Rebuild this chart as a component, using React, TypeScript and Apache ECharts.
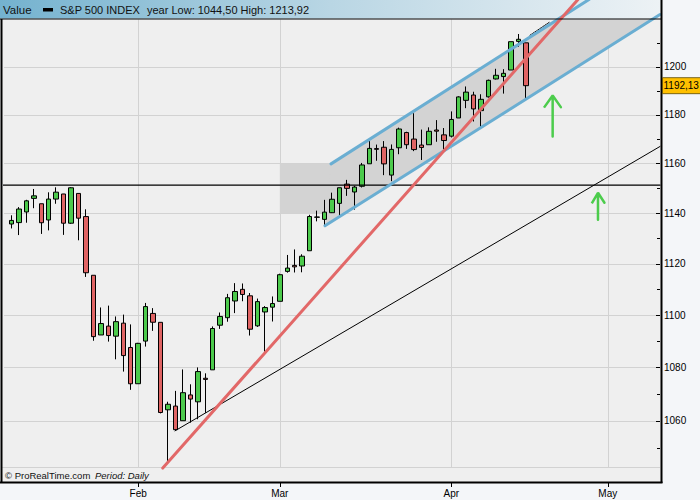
import React, { useEffect, useRef } from "react";
import * as echarts from "echarts";

// Trading days on the category axis (Jan 5 -> May 12, 2010)
const tradingDays = [
  "2010-01-05", "2010-01-06", "2010-01-07", "2010-01-08", "2010-01-11", "2010-01-12", "2010-01-13", "2010-01-14", "2010-01-15",
  "2010-01-19", "2010-01-20", "2010-01-21", "2010-01-22", "2010-01-25", "2010-01-26", "2010-01-27", "2010-01-28", "2010-01-29",
  "2010-02-01", "2010-02-02", "2010-02-03", "2010-02-04", "2010-02-05", "2010-02-08", "2010-02-09", "2010-02-10", "2010-02-11",
  "2010-02-12", "2010-02-16", "2010-02-17", "2010-02-18", "2010-02-19", "2010-02-22", "2010-02-23", "2010-02-24", "2010-02-25",
  "2010-02-26", "2010-03-01", "2010-03-02", "2010-03-03", "2010-03-04", "2010-03-05", "2010-03-08", "2010-03-09", "2010-03-10",
  "2010-03-11", "2010-03-12", "2010-03-15", "2010-03-16", "2010-03-17", "2010-03-18", "2010-03-19", "2010-03-22", "2010-03-23",
  "2010-03-24", "2010-03-25", "2010-03-26", "2010-03-29", "2010-03-30", "2010-03-31", "2010-04-01", "2010-04-05", "2010-04-06",
  "2010-04-07", "2010-04-08", "2010-04-09", "2010-04-12", "2010-04-13", "2010-04-14", "2010-04-15", "2010-04-16", "2010-04-19",
  "2010-04-20", "2010-04-21", "2010-04-22", "2010-04-23", "2010-04-26", "2010-04-27", "2010-04-28", "2010-04-29", "2010-04-30",
  "2010-05-03", "2010-05-04", "2010-05-05", "2010-05-06", "2010-05-07", "2010-05-10", "2010-05-11", "2010-05-12",
];
const monthNames = ["Jan", "Feb", "Mar", "Apr", "May", "Jun", "Jul", "Aug", "Sep", "Oct", "Nov", "Dec"];

// First candle sits on tradingDays[1] (Jan 6)
const firstCandleIndex = 1;
const openP = [
  1135.71, 1136.27, 1140.52, 1145.96, 1143.81, 1137.31, 1145.68, 1147.72, 1136.03, 1147.95, 1138.68, 1115.49, 1092.40, 1095.80, 1091.94, 1096.93, 1087.61,
  1073.89, 1090.05, 1100.67, 1097.25, 1064.12, 1065.51, 1060.06, 1069.68, 1067.10, 1075.95, 1079.13, 1096.14, 1099.03, 1105.49, 1110.00, 1107.49, 1095.89, 1101.24, 1103.10,
  1105.36, 1117.01, 1119.36, 1119.12, 1125.12, 1138.40, 1137.56, 1140.22, 1143.96, 1151.71, 1148.53, 1150.83, 1159.94, 1166.13, 1166.68, 1155.35, 1166.47, 1172.70, 1170.03, 1167.58, 1167.71, 1173.75, 1171.75,
  1171.23, 1178.71, 1186.01, 1188.23, 1181.75, 1187.47, 1194.94, 1195.94, 1198.69, 1210.77, 1210.17,
];
const highP = [
  1139.19, 1142.46, 1145.39, 1149.74, 1143.81, 1148.40, 1150.41, 1147.77, 1150.45, 1147.95, 1141.58, 1115.49, 1102.97, 1103.69, 1099.51, 1100.22, 1096.45,
  1089.38, 1104.73, 1102.72, 1097.25, 1067.13, 1071.20, 1079.28, 1073.67, 1080.04, 1077.81, 1095.67, 1101.03, 1108.24, 1112.42, 1112.29, 1108.58, 1106.42, 1103.50, 1107.24,
  1116.11, 1123.46, 1125.64, 1123.73, 1139.38, 1141.05, 1145.37, 1148.26, 1150.24, 1153.41, 1150.98, 1160.28, 1169.20, 1167.77, 1169.20, 1167.82, 1174.72, 1173.04, 1180.69, 1173.93, 1174.85, 1177.83, 1174.56,
  1181.43, 1187.73, 1191.80, 1189.60, 1188.55, 1194.66, 1199.20, 1199.04, 1210.65, 1213.92, 1210.17,
];
const lowP = [
  1133.95, 1131.32, 1136.22, 1142.02, 1131.77, 1133.18, 1143.80, 1131.39, 1135.77, 1129.25, 1114.84, 1090.18, 1092.40, 1089.86, 1083.11, 1078.46, 1071.59,
  1073.89, 1087.96, 1093.97, 1062.78, 1044.50, 1056.51, 1060.06, 1059.34, 1060.59, 1062.97, 1079.13, 1094.72, 1097.48, 1100.80, 1105.38, 1092.18, 1095.50, 1086.02, 1097.56,
  1105.36, 1116.51, 1116.58, 1116.66, 1125.12, 1136.77, 1134.90, 1140.09, 1138.99, 1146.97, 1141.45, 1150.35, 1159.94, 1161.16, 1155.33, 1152.88, 1163.83, 1166.01, 1165.09, 1161.48, 1167.71, 1168.92, 1165.77,
  1170.69, 1178.71, 1182.77, 1177.25, 1175.12, 1187.15, 1194.71, 1188.82, 1198.69, 1208.50, 1186.77,
];
const closeP = [
  1137.14, 1141.69, 1144.98, 1146.98, 1136.22, 1145.68, 1148.46, 1136.03, 1150.23, 1138.04, 1116.48, 1091.76, 1096.78, 1092.17, 1097.50, 1084.53, 1073.87,
  1089.19, 1103.32, 1097.28, 1063.11, 1066.19, 1056.74, 1070.52, 1068.13, 1078.47, 1075.51, 1094.87, 1099.51, 1106.75, 1109.17, 1108.01, 1094.60, 1105.24, 1102.94, 1104.49,
  1115.71, 1118.31, 1118.79, 1122.97, 1138.70, 1138.50, 1140.45, 1145.61, 1150.24, 1149.99, 1150.51, 1159.46, 1166.21, 1165.83, 1159.90, 1165.81, 1174.17, 1167.72, 1165.73, 1166.59, 1173.22, 1173.27, 1169.43,
  1178.10, 1187.44, 1189.44, 1182.45, 1186.44, 1194.37, 1196.48, 1197.30, 1210.65, 1211.67, 1192.13,
];

// Price axis (log scale)
const yRange = [1043, 1220.1];
const yTickValues = [1060, 1080, 1100, 1120, 1140, 1160, 1180, 1200];
const yMinorTickValues = [1050, 1070, 1090, 1110, 1130, 1150, 1170, 1190, 1210];

// Drawn annotations: [trading-day index, price]
const resistanceLine = [[-0.3, 1151.3], [88, 1151.3]];
const zoneRect = [[37, 1140], [44, 1140], [44, 1160], [37, 1160]];
const channelArea = [[43.87, 1159.9], [78.48, 1228.7], [88, 1222.2], [43.06, 1135.0]];
const channelUpper = [[43.87, 1159.9], [78.48, 1228.7]];
const channelLower = [[43.06, 1135.0], [88, 1222.2]];
const redTrend = [[21.3, 1042.6], [77.0, 1228.7]];
const supportTrend = [[22.94, 1056.3], [88, 1167.0]];
const dottedTrend = [[70.56, 1213.4], [73.2, 1219.0]];
const arrowOne = [[73.6, 1171.1], [73.6, 1188.0], [72.44, 1183.0], [73.6, 1188.0], [74.7, 1183.2]];
const arrowTwo = [[79.68, 1137.4], [79.68, 1148.2], [78.85, 1144.0], [79.68, 1148.2], [80.55, 1144.2]];

const L = (v: number) => Math.log(v);
const fmt = (v: number) => v.toFixed(2).replace(".", ",");
const isMonthStart = (i: number) =>
  i > 0 && tradingDays[i].slice(5, 7) !== tradingDays[i - 1].slice(5, 7);

const FONT = "Liberation Sans, Arial, sans-serif";

function lineSeries(data: number[][], color: string, width: number, type: string = "solid", z = 5) {
  return {
    type: "line",
    xAxisIndex: 1,
    yAxisIndex: 0,
    data: data.map(([i, v]) => [i, L(v)]),
    symbol: "none",
    clip: false,
    silent: true,
    z,
    lineStyle: { color, width, type, cap: "round" },
  };
}

export default function App() {
  const ref = useRef<HTMLDivElement>(null);

  useEffect(() => {
    if (!ref.current) return;
    const chart = echarts.init(ref.current, null, { renderer: "svg" });

    const candleData = tradingDays.map((_, k) => {
      const j = k - firstCandleIndex;
      if (j < 0 || j >= closeP.length) return "-";
      return [L(openP[j]), L(closeP[j]), L(lowP[j]), L(highP[j])];
    });
    const lastClose = closeP[closeP.length - 1];
    const yearLow = Math.min(...lowP);
    const yearHigh = Math.max(...highP);

    const shapes = [zoneRect, channelArea];

    const baseGraphics: any[] = [
      {
        type: "rect",
        z: 0,
        silent: true,
        shape: { x: 0, y: 0, width: 661, height: 18.5 },
        style: {
          fill: new echarts.graphic.LinearGradient(0, 0, 1, 0, [
            { offset: 0, color: "#74b2cf" },
            { offset: 0.5, color: "#b9d6e4" },
            { offset: 1, color: "#edf2f5" },
          ]),
        },
      },
      { type: "rect", z: 0, silent: true, shape: { x: 2, y: 19, width: 2, height: 448 }, style: { fill: "#efefef" } },
      { type: "rect", z: 0, silent: true, shape: { x: 659, y: 19, width: 2, height: 448 }, style: { fill: "#efefef" } },
      { type: "rect", z: 4, silent: true, shape: { x: 2, y: 467, width: 659, height: 15 }, style: { fill: "#efefef" } },
      { type: "line", z: 4, silent: true, shape: { x1: 2, y1: 467.5, x2: 660, y2: 467.5 }, style: { stroke: "#d2d2d2", lineWidth: 1 } },
      {
        type: "text", z: 4, x: 5, y: 475.5, silent: true,
        style: { text: "© ProRealTime.com", fontSize: 9.5, fontFamily: FONT, fill: "#111", verticalAlign: "middle" },
      },
      {
        type: "text", z: 4, x: 95, y: 475.5, silent: true,
        style: { text: "Period: Daily", fontSize: 9.5, fontStyle: "italic", fontFamily: FONT, fill: "#111", verticalAlign: "middle" },
      },
      { type: "line", z: 10, silent: true, shape: { x1: 0, y1: 19, x2: 661, y2: 19 }, style: { stroke: "#000", lineWidth: 1.2 } },
      { type: "line", z: 10, silent: true, shape: { x1: 1.5, y1: 19, x2: 1.5, y2: 483 }, style: { stroke: "#000", lineWidth: 2 } },
      { type: "line", z: 10, silent: true, shape: { x1: 0, y1: 482.5, x2: 662.5, y2: 482.5 }, style: { stroke: "#000", lineWidth: 2 } },
      { type: "line", z: 10, silent: true, shape: { x1: 661.5, y1: 0, x2: 661.5, y2: 483 }, style: { stroke: "#000", lineWidth: 2 } },
      {
        type: "text", z: 10, x: 3, y: 9.5, silent: true,
        style: { text: "Value", fontSize: 11.5, fontFamily: FONT, fill: "#111", verticalAlign: "middle" },
      },
      { type: "rect", z: 10, silent: true, shape: { x: 43, y: 8, width: 10, height: 3.5 }, style: { fill: "#000" } },
      {
        type: "text", z: 10, x: 60, y: 9.5, silent: true,
        style: { text: "S&P 500 INDEX", fontSize: 11, fontFamily: FONT, fill: "#111", verticalAlign: "middle" },
      },
      {
        type: "text", z: 10, x: 147, y: 9.5, silent: true,
        style: {
          text: `year Low: ${fmt(yearLow)} High: ${fmt(yearHigh)}`,
          fontSize: 11, fontFamily: FONT, fill: "#111", verticalAlign: "middle",
        },
      },
    ];

    chart.setOption({
      animation: false,
      backgroundColor: "#f4f6f9",
      grid: {
        left: 4,
        right: 40,
        top: 19.5,
        bottom: 33,
        show: true,
        backgroundColor: "#efefef",
        borderWidth: 0,
      },
      xAxis: [
        {
          type: "category",
          data: tradingDays,
          boundaryGap: false,
          position: "bottom",
          offset: 15,
          axisLine: { show: false, onZero: false },
          axisTick: {
            show: true,
            length: 5,
            interval: (i: number) => isMonthStart(i),
            lineStyle: { color: "#000", width: 1 },
          },
          axisLabel: {
            interval: (i: number) => isMonthStart(i),
            formatter: (v: string) => monthNames[parseInt(v.slice(5, 7), 10) - 1],
            fontSize: 10,
            fontFamily: FONT,
            color: "#000",
            margin: 6,
          },
          splitLine: {
            show: true,
            interval: (i: number) => isMonthStart(i),
            lineStyle: { color: "#d2d2d2", width: 1 },
          },
        },
        {
          type: "value",
          min: 0,
          max: tradingDays.length - 1,
          position: "bottom",
          show: false,
          axisLine: { onZero: false },
        },
      ],
      yAxis: [
        {
          type: "value",
          position: "right",
          min: L(yRange[0]),
          max: L(yRange[1]),
          axisLine: { show: false, onZero: false },
          axisTick: {
            show: true,
            inside: true,
            length: 4,
            customValues: yTickValues.map(L),
            lineStyle: { color: "#000", width: 1 },
          },
          axisLabel: {
            customValues: yTickValues.map(L),
            formatter: (v: number) => String(Math.round(Math.exp(v))),
            fontSize: 10,
            fontFamily: FONT,
            color: "#000",
            margin: 4,
          },
          splitLine: { show: true, lineStyle: { color: "#d2d2d2", width: 1 } },
        },
        {
          type: "value",
          position: "right",
          min: L(yRange[0]),
          max: L(yRange[1]),
          axisLine: { show: false, onZero: false },
          axisTick: {
            show: true,
            inside: true,
            length: 3,
            customValues: yMinorTickValues.map(L),
            lineStyle: { color: "#000", width: 1 },
          },
          axisLabel: { show: false },
          splitLine: { show: false },
        },
      ],
      series: [
        {
          type: "custom",
          xAxisIndex: 1,
          yAxisIndex: 0,
          clip: true,
          silent: true,
          z: 1,
          data: [[40, L(1150)], [60, L(1180)]],
          renderItem: (params: any, api: any) => {
            const poly = shapes[params.dataIndex];
            const cs = params.coordSys;
            return {
              type: "group",
              clipPath: { type: "rect", shape: { x: cs.x, y: cs.y, width: cs.width, height: cs.height } },
              children: [
                {
                  type: "polygon",
                  shape: { points: poly.map(([i, v]) => api.coord([i, L(v)])) },
                  style: { fill: "#d3d3d3", stroke: "none" },
                },
              ],
            };
          },
        },
        {
          type: "candlestick",
          xAxisIndex: 0,
          yAxisIndex: 0,
          data: candleData,
          barWidth: 5,
          z: 3,
          itemStyle: {
            color: "#4cca4c",
            color0: "#e06464",
            borderColor: "#000",
            borderColor0: "#000",
            borderWidth: 1,
          },
        },
        lineSeries(resistanceLine, "#000", 1.3, "solid", 4),
        lineSeries(supportTrend, "#000", 1, "solid", 4),
        lineSeries(dottedTrend, "#000", 1, "dotted", 4),
        lineSeries(redTrend, "#e26868", 3, "solid", 6),
        lineSeries(channelUpper, "#6aaed2", 3, "solid", 5),
        lineSeries(channelLower, "#6aaed2", 3, "solid", 5),
        lineSeries(arrowOne, "#4ccc4c", 2.5, "solid", 6),
        lineSeries(arrowTwo, "#4ccc4c", 2.5, "solid", 6),
      ],
      graphic: baseGraphics,
    });

    // Last-price tag placed through the price axis
    const tagY = chart.convertToPixel({ yAxisIndex: 0 }, L(lastClose)) as number;
    chart.setOption({
      graphic: [
        ...baseGraphics,
        {
          type: "rect", z: 12, silent: true,
          shape: { x: 662.5, y: tagY - 8, width: 40, height: 16 },
          style: { fill: "#ffc000", stroke: "#5a4700", lineWidth: 0.8 },
        },
        {
          type: "text", z: 13, x: 663.5, y: tagY, silent: true,
          style: { text: fmt(lastClose), fontSize: 10, fontFamily: FONT, fill: "#000", verticalAlign: "middle" },
        },
      ],
    });

    return () => chart.dispose();
  }, []);

  return (
    <div
      ref={ref}
      style={{ position: "fixed", left: 0, top: 0, width: 700, height: 500 }}
    />
  );
}
